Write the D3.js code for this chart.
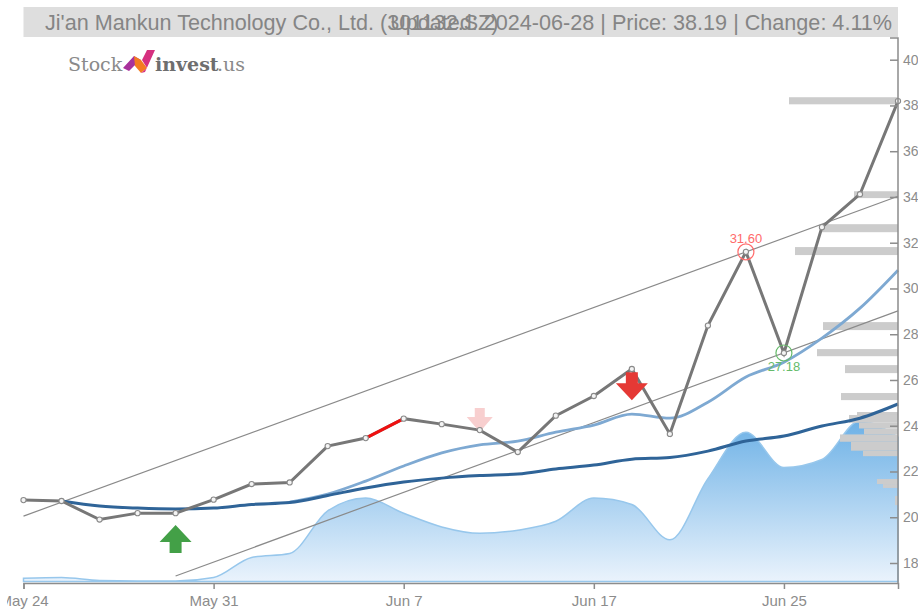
<!DOCTYPE html>
<html>
<head>
<meta charset="utf-8">
<script src="https://cdn.jsdelivr.net/npm/d3@7"></script>
<style>
html, body { margin: 0; padding: 0; background: #fff; overflow: hidden; }
svg { position: absolute; left: 7px; top: 0; font-family: "Liberation Sans", Arial, sans-serif; }
.axis text { fill: #8c8c8c; font-size: 15px; font-family: "Liberation Sans", Arial, sans-serif; }
.axis.price text { font-size: 14px; }
.axis path, .axis line { stroke: #8c8c8c; stroke-width: 1.5; }
</style>
</head>
<body>
<div id="chart"></div>
<script>
var dates = ["May 24", "May 27", "May 28", "May 29", "May 30", "May 31", "Jun 3", "Jun 4", "Jun 5", "Jun 6", "Jun 7",
    "Jun 11", "Jun 12", "Jun 13", "Jun 14", "Jun 17", "Jun 18", "Jun 19", "Jun 20", "Jun 21", "Jun 25", "Jun 26", "Jun 27", "Jun 28"];
var tickDates = ["May 24", "May 31", "Jun 7", "Jun 17", "Jun 25"];
var priceTicks = [18, 20, 22, 24, 26, 28, 30, 32, 34, 36, 38, 40];

var closes = [20.75, 20.71, 19.90, 20.18, 20.18, 20.77, 21.45, 21.52, 23.11, 23.46, 24.31, 24.07,
    23.81, 22.85, 24.44, 25.30, 26.48, 23.64, 28.38, 31.60, 27.18, 32.68, 34.12, 38.19];
var maLong = [null, 20.71, 20.49, 20.40, 20.36, 20.40, 20.56, 20.64, 20.95, 21.28, 21.54, 21.71,
    21.82, 21.89, 22.11, 22.28, 22.54, 22.61, 22.89, 23.33, 23.55, 23.99, 24.33, 24.95];
var maShort = [null, null, null, null, null, null, null, 20.66, 21.01, 21.58, 22.24, 22.81,
    23.16, 23.33, 23.72, 24.03, 24.51, 24.33, 25.03, 26.13, 26.78, 27.83, 29.14, 30.80];
var volume = [2, 2.5, 0.6, 0.3, 0.3, 2.5, 15, 17.5, 44, 52, 42.5, 34,
    30, 32, 37.5, 52, 48, 26, 64, 93, 71, 76, 100, 90];

// volume at price, right aligned
var profileLow = [38.05, 33.95, 32.46, 31.46, 28.18, 27.04, 26.30, 25.12, 24.47, 24.13, 23.88, 23.62, 23.30, 22.91, 22.67, 21.45, 21.28, 20.53];
var profileHigh = [38.36, 34.25, 32.81, 31.81, 28.53, 27.35, 26.65, 25.43, 24.60, 24.47, 24.13, 23.88, 23.62, 23.30, 22.91, 21.67, 21.45, 20.93];
var profileVol = [109, 44, 76, 103, 75, 81, 53, 57, 41, 49, 39, 34, 58, 47, 35, 21, 15, 3];

var trendUpper = [{i: 0, p: 20.05}, {i: 23, p: 34.03}];
var trendLower = [{i: 4, p: 17.43}, {i: 23, p: 29.02}];
var redSegment = [9, 10];

var arrows = [
    {i: 4, p: 19.05, dir: 1, color: "#43a047"},
    {i: 12, p: 24.25, dir: -1, color: "#f8cfcf"},
    {i: 16, p: 25.73, dir: -1, color: "#e53935"}
];
var marks = [
    {i: 19, label: "31.60", color: "#ff6b6b", dy: -9},
    {i: 20, label: "27.18", color: "#66bb6a", dy: 18}
];

var titleLeft = "Ji'an Mankun Technology Co., Ltd. (301132.SZ)";
var titleRight = "Updated: 2024-06-28 | Price: 38.19 | Change: 4.11%";

var plotLeft = 23.5, plotRight = 898, plotTop = 38, plotBottom = 583;

var svg = d3.select("#chart").append("svg")
    .attr("width", 911)
    .attr("height", 610);
var root = svg.append("g").attr("transform", "translate(-7,0)");

var x = d3.scalePoint().domain(dates).range([plotLeft, plotRight]);
var y = d3.scaleLinear().domain([18, 40]).range([563, 59.7]);
var yVol = d3.scaleLinear().domain([0, 100]).range([581.5, 421]);
var xProfile = d3.scaleLinear().domain([0, 109]).range([plotRight, 789]);

var defs = svg.append("defs");
var grad = defs.append("linearGradient").attr("id", "volFill")
    .attr("x1", 0).attr("y1", 0).attr("x2", 0).attr("y2", 1);
grad.append("stop").attr("offset", "0%").attr("stop-color", "#6db1e6");
grad.append("stop").attr("offset", "100%").attr("stop-color", "#eaf3fc");

// header
root.append("rect")
    .attr("x", plotLeft).attr("y", 7)
    .attr("width", plotRight - plotLeft).attr("height", 30)
    .attr("fill", "#dedede");
root.append("text").attr("x", 45).attr("y", 30)
    .attr("font-size", 21.6).attr("fill", "#858585")
    .text(titleLeft);
root.append("text").attr("x", 892).attr("y", 30)
    .attr("text-anchor", "end")
    .attr("font-size", 21.6).attr("fill", "#858585")
    .text(titleRight);

// logo
var logo = root.append("g");
logo.append("text").attr("x", 68).attr("y", 71)
    .attr("font-family", "DejaVu Serif").attr("font-size", 19).attr("fill", "#8a8a8a")
    .text("Stock");
logo.append("polygon").attr("points", "123,68 134,56 141,60 134,66 129,71").attr("fill", "#a8329c");
logo.append("polygon").attr("points", "134,56 141,60 147,68 141,73 135,66").attr("fill", "#f47b20");
logo.append("polygon").attr("points", "144,56 147,50 155,50 145,72 141,73 147,68 142,60").attr("fill", "#d6307f");
logo.append("text").attr("x", 155).attr("y", 71)
    .attr("font-family", "DejaVu Serif").attr("font-weight", "bold").attr("font-size", 19).attr("fill", "#6e6e6e")
    .text("invest");
logo.append("text").attr("x", 217).attr("y", 71)
    .attr("font-family", "DejaVu Serif").attr("font-size", 19).attr("fill", "#8a8a8a")
    .text(".us");

// volume area
var area = d3.area()
    .x(function (d, i) { return x(dates[i]); })
    .y0(yVol(0))
    .y1(function (d) { return yVol(d); })
    .curve(d3.curveMonotoneX);
root.append("path")
    .attr("d", area(volume) + "Z")
    .attr("fill", "url(#volFill)")
    .attr("stroke", "#97c7ec")
    .attr("stroke-width", 1.5);

// price profile
root.selectAll(".profile").data(profileVol).enter().append("rect")
    .attr("class", "profile")
    .attr("x", function (d) { return xProfile(d); })
    .attr("y", function (d, i) { return y(profileHigh[i]); })
    .attr("width", function (d) { return plotRight - xProfile(d); })
    .attr("height", function (d, i) { return y(profileLow[i]) - y(profileHigh[i]); })
    .attr("fill", "#cccccc");

// trend lines
var trend = d3.line()
    .x(function (d) { return x(dates[d.i]); })
    .y(function (d) { return y(d.p); });
[trendUpper, trendLower].forEach(function (t) {
    root.append("path").attr("d", trend(t))
        .attr("fill", "none").attr("stroke", "#8a8a8a").attr("stroke-width", 1.2);
});

// moving averages
function maLine(values) {
    return d3.line()
        .defined(function (d) { return d !== null; })
        .x(function (d, i) { return x(dates[i]); })
        .y(function (d) { return y(d); })
        .curve(d3.curveMonotoneX)(values);
}
root.append("path").attr("d", maLine(maShort))
    .attr("fill", "none").attr("stroke", "#7ea9d2").attr("stroke-width", 2.8);
root.append("path").attr("d", maLine(maLong))
    .attr("fill", "none").attr("stroke", "#2f6498").attr("stroke-width", 3);

// price
var priceLine = d3.line()
    .x(function (d, i) { return x(dates[i]); })
    .y(function (d) { return y(d); });
root.append("path").attr("d", priceLine(closes))
    .attr("fill", "none").attr("stroke", "#777").attr("stroke-width", 3);
root.append("line")
    .attr("x1", x(dates[redSegment[0]])).attr("y1", y(closes[redSegment[0]]))
    .attr("x2", x(dates[redSegment[1]])).attr("y2", y(closes[redSegment[1]]))
    .attr("stroke", "#f01010").attr("stroke-width", 3);

// arrows, the pale one is a size smaller
arrows.forEach(function (a) {
    var cx = x(dates[a.i]), cy = y(a.p), d = a.dir;
    var pale = a.color === "#f8cfcf";
    var h = pale ? 12 : 14, w = pale ? 13 : 16, s = pale ? 5 : 6;
    var path = d3.path();
    path.moveTo(cx, cy - d * h);
    path.lineTo(cx + w, cy + d * 3);
    path.lineTo(cx + s, cy + d * 3);
    path.lineTo(cx + s, cy + d * h);
    path.lineTo(cx - s, cy + d * h);
    path.lineTo(cx - s, cy + d * 3);
    path.lineTo(cx - w, cy + d * 3);
    path.closePath();
    root.append("path").attr("d", path.toString()).attr("fill", a.color);
});

// dots
root.selectAll(".dot").data(closes).enter().append("circle")
    .attr("class", "dot")
    .attr("cx", function (d, i) { return x(dates[i]); })
    .attr("cy", function (d) { return y(d); })
    .attr("r", 2.6)
    .attr("fill", "#f4f4f4")
    .attr("stroke", "#8a8a8a")
    .attr("stroke-width", 1.1);

// high and low marks
marks.forEach(function (m) {
    var cx = x(dates[m.i]), cy = y(closes[m.i]);
    root.append("circle").attr("cx", cx).attr("cy", cy).attr("r", 8)
        .attr("fill", "none").attr("stroke", m.color).attr("stroke-width", 1.2);
    root.append("text").attr("x", cx).attr("y", cy + m.dy)
        .attr("text-anchor", "middle").attr("font-size", 13).attr("fill", m.color)
        .text(m.label);
});

// axes
var yAxis = d3.axisRight(y).tickValues(priceTicks).tickFormat(d3.format("d"))
    .tickSizeInner(-8).tickSizeOuter(-8).tickPadding(5);
root.append("g").attr("class", "axis price")
    .attr("transform", "translate(" + plotRight + ",0)")
    .call(yAxis)
    .call(function (g) { g.select(".domain").attr("d", "M-8," + plotTop + "H0V" + plotBottom); });

var xAxis = d3.axisBottom(x).tickValues(tickDates).tickSizeInner(6).tickSizeOuter(6).tickPadding(6);
root.append("g").attr("class", "axis")
    .attr("transform", "translate(0," + plotBottom + ")")
    .call(xAxis);
</script>
</body>
</html>
